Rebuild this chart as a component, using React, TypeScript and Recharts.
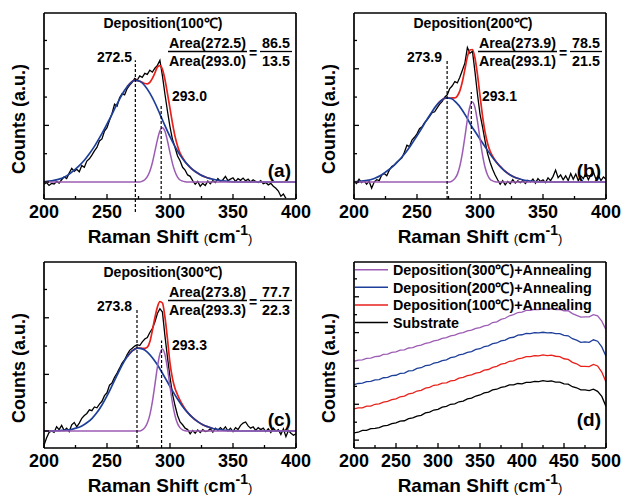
import React from 'react';
import { LineChart, Line, XAxis, YAxis, ReferenceLine } from 'recharts';

const FONT = '"Liberation Sans", Arial, Helvetica, sans-serif';
const BLACK = '#000000';
const RED = '#e8211b';
const BLUE = '#1d3f99';
const PURPLE = '#9c5cb4';

// ---------- tick labels ----------
const X_TICKS_ABC = [200, 225, 250, 275, 300, 325, 350, 375, 400];
const X_TICKS_D = [200, 225, 250, 275, 300, 325, 350, 375, 400, 425, 450, 475, 500];
const Y_TICKS_ABC = [0, 1, 2, 3, 4, 5];
const Y_TICKS_D = [0, 0.5, 1, 1.5, 2, 2.5, 3, 3.5, 4, 4.5];

const TITLES = ['Deposition(100℃)', 'Deposition(200℃)', 'Deposition(300℃)'];
const PEAK1 = ['272.5', '273.9', '273.8'];
const PEAK2 = ['293.0', '293.1', '293.3'];
const AREA1 = ['86.5', '78.5', '77.7'];
const AREA2 = ['13.5', '21.5', '22.3'];
const LETTERS = ['(a)', '(b)', '(c)', '(d)'];
const LEGEND_D = ['Deposition(300℃)+Annealing', 'Deposition(200℃)+Annealing', 'Deposition(100℃)+Annealing', 'Substrate'];

// ---------- panel (a) ----------
const A_BLACK = [
  -0.08, -0.02, -0.12, -0.05, -0.07, 0.02, -0.04, 0.08, 0.18, 0.12,
  0.32, 0.48, 0.38, 0.45, 0.36, 0.58, 0.52, 0.74, 0.82, 0.95,
  1.1, 1.22, 1.45, 1.52, 1.8, 1.92, 2.18, 2.42, 2.75, 2.68,
  2.98, 3.12, 3.08, 3.3, 3.42, 3.52, 3.66, 3.6, 3.75, 3.7,
  3.84, 3.8, 3.95, 3.88, 4.02, 4.12, 4.3, 3.75, 3.1, 2.5,
  1.95, 1.5, 1.22, 0.92, 0.75, 0.52, 0.42, 0.25, 0.2, 0.05,
  -0.08, 0.02, -0.15, -0.05, -0.12, 0.03, -0.06, 0.05, -0.02, 0.12,
  0.02, 0.08, 0.2, 0.05, 0.1, 0.15, 0.02, 0.12, 0.06, 0.14,
  0.04, 0.1, 0.0, 0.08, 0.02, -0.02, 0.05, -0.06, -0.02, -0.1,
  -0.05, -0.15, -0.22, -0.32, -0.5, -0.42, -0.58,
];
const A_BLUE_X = [200, 204, 208, 212, 216, 220, 224, 228, 232, 236, 240, 244, 248, 252, 256, 260, 264, 268, 272, 276, 280, 284, 288, 292, 296, 300, 304, 308, 312, 316, 320, 324, 328, 332, 336, 340, 344, 348, 352, 356, 400];
const A_BLUE_Y = [0.01, 0.03, 0.06, 0.1, 0.17, 0.28, 0.42, 0.58, 0.77, 1.0, 1.26, 1.56, 1.88, 2.22, 2.58, 2.93, 3.24, 3.47, 3.59, 3.56, 3.4, 3.14, 2.8, 2.4, 1.99, 1.6, 1.25, 0.95, 0.71, 0.52, 0.37, 0.26, 0.18, 0.12, 0.08, 0.05, 0.03, 0.015, 0.005, 0, 0];
const PURPLE_X = [200, 276, 278, 280, 282, 284, 286, 288, 290, 292, 294, 296, 298, 300, 302, 304, 306, 308, 310, 312, 314, 400];
const A_PURPLE_Y = [0, 0, 0.03, 0.08, 0.19, 0.38, 0.68, 1.08, 1.49, 1.81, 1.92, 1.79, 1.45, 1.04, 0.65, 0.36, 0.17, 0.07, 0.03, 0.01, 0, 0];
const A_RED_X = [266, 268, 270, 272, 274, 276, 278, 280, 282, 284, 286, 288, 290, 292, 294, 296, 298, 300, 302, 304, 306, 308, 310, 312, 314, 316, 318, 320, 324, 328, 332];
const A_RED_Y = [3.37, 3.47, 3.55, 3.59, 3.59, 3.56, 3.52, 3.48, 3.47, 3.52, 3.66, 3.85, 4.06, 4.11, 3.98, 3.62, 3.12, 2.6, 2.07, 1.61, 1.27, 1.02, 0.86, 0.72, 0.61, 0.52, 0.44, 0.37, 0.26, 0.18, 0.12];

// ---------- panel (b) ----------
const B_BLACK = [
  0.02, -0.05, 0.1, -0.02, 0.05, -0.08, 0.03, -0.22, 0.0, 0.08,
  0.05, 0.25, 0.3, 0.22, 0.42, 0.55, 0.6, 0.7, 0.78, 0.85,
  1.05, 1.3, 1.25, 1.48, 1.58, 1.7, 1.88, 1.95, 2.1, 2.2,
  2.32, 2.45, 2.48, 2.62, 2.75, 2.85, 3.0, 3.08, 3.3, 3.4,
  3.55, 3.5, 3.7, 3.95, 4.2, 4.75, 4.55, 4.62, 3.9, 3.1,
  2.4, 1.95, 1.45, 1.0, 0.7, 0.45, 0.25, 0.08, -0.08, 0.05,
  -0.1, 0.02, -0.06, 0.08, -0.04, 0.04, -0.02, 0.05, -0.05, 0.06,
  0.0, 0.1, -0.04, 0.12, 0.02, 0.08, -0.02, 0.15, 0.05, 0.2,
  0.42, 0.15, 0.25, 0.08, 0.22, 0.05, 0.3, 0.1, 0.28, 0.05,
  0.22, 0.12, 0.3, 0.08, 0.25, 0.35, 0.1, 0.22, 0.05, 0.18,
  0.1,
];
const B_BLUE_X = [200, 205, 209, 213, 217, 221, 225, 229, 233, 237, 241, 245, 249, 253, 257, 261, 265, 269, 273, 277, 281, 285, 289, 293, 297, 301, 305, 309, 313, 317, 321, 325, 329, 333, 337, 341, 345, 349, 400];
const B_BLUE_Y = [0.01, 0.02, 0.05, 0.08, 0.14, 0.23, 0.35, 0.48, 0.64, 0.83, 1.04, 1.29, 1.56, 1.84, 2.14, 2.42, 2.68, 2.87, 2.97, 2.95, 2.81, 2.6, 2.32, 1.99, 1.72, 1.45, 1.18, 0.93, 0.7, 0.5, 0.34, 0.22, 0.14, 0.09, 0.05, 0.03, 0.01, 0, 0];
const B_PURPLE_Y = [0, 0, 0.04, 0.12, 0.27, 0.56, 1.01, 1.59, 2.2, 2.67, 2.83, 2.63, 2.14, 1.53, 0.96, 0.52, 0.25, 0.1, 0.04, 0.01, 0, 0];
const B_RED_X = [266, 268, 270, 272, 274, 276, 278, 280, 282, 284, 286, 288, 290, 292, 294, 296, 298, 300, 302, 304, 306, 308, 310, 312, 314, 316, 318, 320, 324, 328, 332];
const B_RED_Y = [2.73, 2.83, 2.91, 2.95, 2.97, 2.96, 2.97, 2.97, 3.04, 3.22, 3.54, 3.98, 4.42, 4.66, 4.68, 4.38, 3.79, 3.05, 2.34, 1.77, 1.37, 1.09, 0.91, 0.77, 0.65, 0.55, 0.46, 0.38, 0.25, 0.16, 0.1];

// ---------- panel (c) ----------
const C_BLACK = [
  -0.5, -0.25, -0.05, 0.0, -0.05, 0.15, 0.05, 0.2, 0.02, 0.1,
  -0.02, 0.22, 0.3, 0.15, 0.28, 0.45, 0.55, 0.62, 0.75, 0.72,
  0.85, 0.82, 0.95, 1.05, 1.25, 1.35, 1.62, 1.7, 1.9, 2.05,
  2.22, 2.4, 2.52, 2.7, 2.85, 2.92, 3.0, 3.05, 3.02, 3.15,
  3.25, 3.3, 3.48, 3.62, 3.85, 4.15, 4.32, 4.2, 3.35, 2.6,
  1.9, 1.3, 0.9, 0.55, 0.32, 0.22, 0.1, 0.05, -0.1, 0.02,
  -0.08, 0.04, -0.05, 0.05, -0.02, 0.0, 0.08, -0.04, 0.1, 0.02,
  0.12, 0.04, 0.15, 0.0, 0.1, -0.02, 0.12, 0.05, 0.2, 0.28,
  0.32, 0.18, 0.1, 0.15, 0.02, 0.12, 0.05, 0.1, -0.02, 0.08,
  -0.05, 0.1, 0.0, 0.05, -0.12, 0.08, -0.2, 0.02, -0.08, -0.15,
  -0.1,
];
const C_BLUE_X = [200, 206, 210, 214, 218, 222, 226, 230, 234, 238, 242, 246, 250, 254, 258, 262, 266, 270, 274, 278, 282, 286, 290, 294, 298, 302, 306, 310, 314, 318, 322, 326, 330, 334, 338, 342, 346, 350, 354, 400];
const C_BLUE_Y = [0, 0.005, 0.01, 0.02, 0.03, 0.06, 0.11, 0.18, 0.29, 0.44, 0.65, 0.92, 1.24, 1.6, 1.97, 2.33, 2.62, 2.83, 2.93, 2.9, 2.79, 2.59, 2.34, 2.04, 1.73, 1.42, 1.13, 0.87, 0.65, 0.47, 0.33, 0.22, 0.15, 0.09, 0.06, 0.03, 0.02, 0.01, 0, 0];
const C_PURPLE_Y = [0, 0, 0.04, 0.12, 0.28, 0.57, 1.03, 1.63, 2.26, 2.73, 2.9, 2.7, 2.2, 1.57, 0.98, 0.54, 0.26, 0.11, 0.04, 0.01, 0, 0];
const C_RED_X = [266, 270, 274, 276, 278, 280, 282, 284, 286, 288, 290, 292, 294, 296, 298, 300, 302, 304, 306, 308, 310, 312, 314, 318, 322, 326, 330, 334];
const C_RED_Y = [2.62, 2.83, 2.93, 2.93, 2.92, 2.92, 2.96, 3.15, 3.55, 4.0, 4.38, 4.57, 4.52, 4.02, 3.25, 2.4, 1.85, 1.5, 1.28, 1.08, 0.92, 0.78, 0.66, 0.47, 0.33, 0.22, 0.15, 0.09];

// ---------- panel (d) ----------
const D_SUB = [
  0.2, 0.22, 0.27, 0.27, 0.32, 0.33, 0.35, 0.4, 0.41, 0.46,
  0.48, 0.53, 0.54, 0.6, 0.62, 0.67, 0.69, 0.76, 0.78, 0.84,
  0.86, 0.92, 0.94, 1.0, 1.01, 1.07, 1.09, 1.15, 1.17, 1.23,
  1.26, 1.32, 1.34, 1.4, 1.42, 1.47, 1.49, 1.54, 1.54, 1.58,
  1.57, 1.61, 1.61, 1.64, 1.63, 1.66, 1.64, 1.65, 1.62, 1.62,
  1.57, 1.56, 1.49, 1.46, 1.4, 1.4, 1.38, 1.42, 1.36, 1.22,
  0.94,
];
const D_100 = [
  0.87, 0.9, 0.9, 0.95, 0.95, 1.0, 1.01, 1.06, 1.08, 1.13,
  1.15, 1.21, 1.23, 1.29, 1.31, 1.37, 1.39, 1.45, 1.47, 1.53,
  1.54, 1.59, 1.6, 1.65, 1.67, 1.73, 1.75, 1.8, 1.82, 1.87,
  1.89, 1.95, 1.97, 2.03, 2.06, 2.12, 2.14, 2.2, 2.21, 2.27,
  2.29, 2.33, 2.33, 2.36, 2.35, 2.38, 2.36, 2.37, 2.34, 2.33,
  2.27, 2.25, 2.17, 2.13, 2.06, 2.06, 2.05, 2.11, 2.07, 1.9,
  1.62,
];
const D_200 = [
  1.55, 1.58, 1.59, 1.63, 1.64, 1.68, 1.69, 1.74, 1.75, 1.8,
  1.81, 1.86, 1.87, 1.93, 1.94, 2.0, 2.02, 2.08, 2.09, 2.15,
  2.17, 2.22, 2.24, 2.3, 2.32, 2.38, 2.4, 2.45, 2.47, 2.53,
  2.55, 2.61, 2.63, 2.69, 2.71, 2.77, 2.79, 2.85, 2.87, 2.93,
  2.94, 2.98, 2.97, 3.0, 2.99, 3.01, 2.99, 3.0, 2.97, 2.97,
  2.92, 2.91, 2.83, 2.79, 2.73, 2.74, 2.73, 2.8, 2.76, 2.6,
  2.34,
];
const D_300 = [
  2.2, 2.23, 2.24, 2.28, 2.29, 2.33, 2.34, 2.39, 2.4, 2.45,
  2.46, 2.51, 2.52, 2.57, 2.58, 2.63, 2.65, 2.7, 2.72, 2.77,
  2.79, 2.84, 2.86, 2.91, 2.93, 2.98, 3.0, 3.05, 3.07, 3.12,
  3.14, 3.19, 3.21, 3.28, 3.3, 3.37, 3.4, 3.47, 3.5, 3.56,
  3.57, 3.62, 3.62, 3.65, 3.64, 3.67, 3.65, 3.67, 3.64, 3.65,
  3.61, 3.61, 3.53, 3.48, 3.43, 3.44, 3.44, 3.5, 3.47, 3.32,
  3.08,
];

type Pt = { x: number; y: number };
const pairs = (xs: number[], ys: number[]): Pt[] => xs.map((x, i) => ({ x, y: ys[i] }));
const grid = (start: number, step: number, ys: number[]): Pt[] => ys.map((y, i) => ({ x: start + step * i, y }));

type Series = { data: Pt[]; color: string; width: number; curve: 'linear' | 'monotone' };
type Dash = { x: number; y1: number; y2: number };

const fitSeries = (black: Pt[], red: Pt[], blue: Pt[], purple: Pt[]): Series[] => [
  { data: black, color: BLACK, width: 1.3, curve: 'linear' },
  { data: red, color: RED, width: 1.7, curve: 'monotone' },
  { data: blue, color: BLUE, width: 1.7, curve: 'monotone' },
  { data: purple, color: PURPLE, width: 1.5, curve: 'monotone' },
];

const SERIES_A = fitSeries(grid(200, 2, A_BLACK), pairs(A_RED_X, A_RED_Y), pairs(A_BLUE_X, A_BLUE_Y), pairs(PURPLE_X, A_PURPLE_Y));
const SERIES_B = fitSeries(grid(200, 2, B_BLACK), pairs(B_RED_X, B_RED_Y), pairs(B_BLUE_X, B_BLUE_Y), pairs(PURPLE_X, B_PURPLE_Y));
const SERIES_C = fitSeries(grid(200, 2, C_BLACK), pairs(C_RED_X, C_RED_Y), pairs(C_BLUE_X, C_BLUE_Y), pairs(PURPLE_X, C_PURPLE_Y));
const SERIES_D: Series[] = [
  { data: grid(200, 5, D_SUB), color: BLACK, width: 1.3, curve: 'linear' },
  { data: grid(200, 5, D_100), color: RED, width: 1.3, curve: 'linear' },
  { data: grid(200, 5, D_200), color: BLUE, width: 1.3, curve: 'linear' },
  { data: grid(200, 5, D_300), color: PURPLE, width: 1.3, curve: 'linear' },
];
const LEGEND_COLORS = [PURPLE, BLUE, RED, BLACK];

const DASH_A: Dash[] = [{ x: 272.5, y1: -1.06, y2: 4.3 }, { x: 293.0, y1: -0.6, y2: 2.75 }];
const DASH_B: Dash[] = [{ x: 273.9, y1: -0.6, y2: 4.28 }, { x: 293.1, y1: -0.6, y2: 3.18 }];
const DASH_C: Dash[] = [{ x: 273.8, y1: -0.6, y2: 4.3 }, { x: 293.3, y1: -0.6, y2: 3.2 }];

const AX = { stroke: '#000', strokeWidth: 1.7 };

const xTick = (major: number) => (p: any) => {
  const v = p.payload.value;
  const isMajor = Math.abs(v / major - Math.round(v / major)) < 1e-6;
  return (
    <g>
      <line x1={p.x} x2={p.x} y1={p.y} y2={p.y - (isMajor ? 5 : 3)} stroke="#000" strokeWidth={1.3} />
      {isMajor && (
        <text x={p.x} y={p.y + 19} textAnchor="middle" fontFamily={FONT} fontWeight="bold" fontSize={18} fill="#000">
          {v}
        </text>
      )}
    </g>
  );
};

const yTick = (major: number) => (p: any) => {
  const v = p.payload.value;
  const isMajor = Math.abs(v / major - Math.round(v / major)) < 1e-6;
  return <line x1={p.x} x2={p.x + (isMajor ? 5 : 3)} y1={p.y} y2={p.y} stroke="#000" strokeWidth={1.3} />;
};

function Panel(props: {
  left: number; top: number; xDomain: [number, number]; xTicks: number[];
  yDomain: [number, number]; yTicks: number[]; yMajor: number; series: Series[]; dashes: Dash[];
}) {
  const { left, top, xDomain, xTicks, yDomain, yTicks, yMajor, series, dashes } = props;
  return (
    <div style={{ position: 'absolute', left, top }}>
      <LineChart width={310} height={249} margin={{ top: 12, right: 13, bottom: 49, left: 43 }}>
        <XAxis xAxisId="b" type="number" dataKey="x" domain={xDomain} ticks={xTicks} interval={0} allowDataOverflow
          height={1} tickSize={0} tickMargin={0} tickLine={false} axisLine={AX} tick={xTick(50)} />
        <XAxis xAxisId="t" orientation="top" type="number" dataKey="x" domain={xDomain} allowDataOverflow
          height={1} tick={false} tickLine={false} axisLine={AX} />
        <YAxis yAxisId="l" type="number" domain={yDomain} ticks={yTicks} interval={0} allowDataOverflow
          width={1} tickSize={0} tickMargin={0} tickLine={false} axisLine={AX} tick={yTick(yMajor)} />
        <YAxis yAxisId="r" orientation="right" type="number" domain={yDomain} allowDataOverflow
          width={1} tick={false} tickLine={false} axisLine={AX} />
        {series.map((s, i) => (
          <Line key={i} xAxisId="b" yAxisId="l" data={s.data} dataKey="y" type={s.curve} stroke={s.color}
            strokeWidth={s.width} dot={false} activeDot={false} isAnimationActive={false} />
        ))}
        {dashes.map((d, i) => (
          <ReferenceLine key={'d' + i} xAxisId="b" yAxisId="l" ifOverflow="visible"
            segment={[{ x: d.x, y: d.y1 }, { x: d.x, y: d.y2 }]}
            stroke="#000" strokeWidth={1.2} strokeDasharray="3 2" />
        ))}
      </LineChart>
    </div>
  );
}

const B = { fontFamily: FONT, fontWeight: 'bold' as const, fill: '#000' };

function PanelText({ i, ox, oy }: { i: number; ox: number; oy: number }) {
  return (
    <g>
      <text {...B} x={ox + 163} y={oy + 28} fontSize={14} textAnchor="middle">{TITLES[i]}</text>
      <text {...B} x={ox + 97} y={oy + 62} fontSize={14}>{PEAK1[i]}</text>
      <text {...B} x={ox + 172} y={oy + 101} fontSize={14}>{PEAK2[i]}</text>
      <text {...B} x={ox + 207.5} y={oy + 47.5} fontSize={14.3} textAnchor="middle">{'Area(' + PEAK1[i] + ')'}</text>
      <line x1={ox + 168} x2={ox + 247} y1={oy + 51.5} y2={oy + 51.5} stroke="#000" strokeWidth={1.3} />
      <text {...B} x={ox + 207.5} y={oy + 66} fontSize={14.3} textAnchor="middle">{'Area(' + PEAK2[i] + ')'}</text>
      <text {...B} x={ox + 253} y={oy + 58} fontSize={14} textAnchor="middle">=</text>
      <text {...B} x={ox + 276} y={oy + 47.5} fontSize={14.3} textAnchor="middle">{AREA1[i]}</text>
      <line x1={ox + 260} x2={ox + 292} y1={oy + 51.5} y2={oy + 51.5} stroke="#000" strokeWidth={1.3} />
      <text {...B} x={ox + 276} y={oy + 66} fontSize={14.3} textAnchor="middle">{AREA2[i]}</text>
    </g>
  );
}

function AxisTitles({ ox, oy, letter }: { ox: number; oy: number; letter: string }) {
  return (
    <g>
      <text {...B} x={ox + 170} y={oy + 243} textAnchor="middle">
        <tspan fontSize={19}>Raman Shift </tspan>
        <tspan fontSize={13} fontWeight="normal">(</tspan>
        <tspan fontSize={19}>cm</tspan>
        <tspan fontSize={14} dy={-8}>-1</tspan>
        <tspan fontSize={13} fontWeight="normal" dy={8}>)</tspan>
      </text>
      <text {...B} fontSize={18} textAnchor="middle" transform={`translate(${ox + 25},${oy + 119}) rotate(-90)`}>
        Counts (a.u.)
      </text>
      <text {...B} x={ox + 291} y={oy + 177} fontSize={19} textAnchor="end">{letter}</text>
    </g>
  );
}

export default function App() {
  return (
    <div style={{ position: 'absolute', left: 0, top: 0, width: 621, height: 498, background: '#fff' }}>
      <style>{'svg { overflow: visible; }'}</style>
      <Panel left={0} top={0} xDomain={[200, 400]} xTicks={X_TICKS_ABC} yDomain={[-0.6, 5.97]} yTicks={Y_TICKS_ABC} yMajor={2} series={SERIES_A} dashes={DASH_A} />
      <Panel left={310} top={0} xDomain={[200, 400]} xTicks={X_TICKS_ABC} yDomain={[-0.6, 5.97]} yTicks={Y_TICKS_ABC} yMajor={2} series={SERIES_B} dashes={DASH_B} />
      <Panel left={0} top={249} xDomain={[200, 400]} xTicks={X_TICKS_ABC} yDomain={[-0.6, 5.97]} yTicks={Y_TICKS_ABC} yMajor={2} series={SERIES_C} dashes={DASH_C} />
      <Panel left={310} top={249} xDomain={[200, 500]} xTicks={X_TICKS_D} yDomain={[-0.22, 4.97]} yTicks={Y_TICKS_D} yMajor={1} series={SERIES_D} dashes={[]} />
      <svg width={621} height={498} style={{ position: 'absolute', left: 0, top: 0, pointerEvents: 'none' }}>
        <PanelText i={0} ox={0} oy={0} />
        <PanelText i={1} ox={310} oy={0} />
        <PanelText i={2} ox={0} oy={249} />
        <AxisTitles ox={0} oy={0} letter={LETTERS[0]} />
        <AxisTitles ox={310} oy={0} letter={LETTERS[1]} />
        <AxisTitles ox={0} oy={249} letter={LETTERS[2]} />
        <AxisTitles ox={310} oy={249} letter={LETTERS[3]} />
        {LEGEND_D.map((name, k) => {
          const y = 249 + 20.7 + k * 17.6;
          return (
            <g key={name}>
              <line x1={355} x2={388} y1={y} y2={y} stroke={LEGEND_COLORS[k]} strokeWidth={1.5} />
              <text {...B} x={393} y={y + 5.3} fontSize={14.3}>{name}</text>
            </g>
          );
        })}
      </svg>
    </div>
  );
}
